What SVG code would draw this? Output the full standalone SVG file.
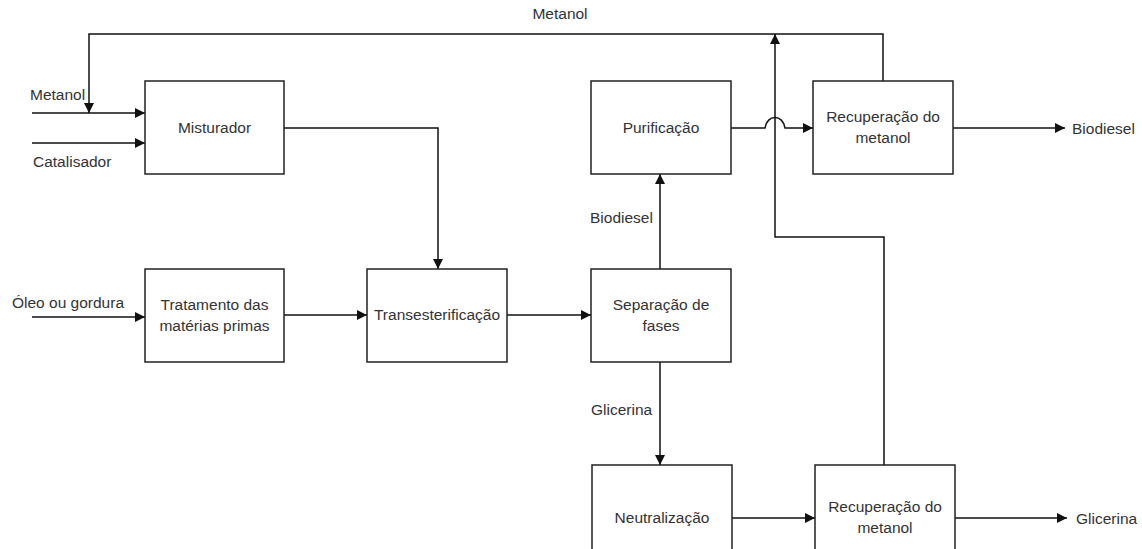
<svg xmlns="http://www.w3.org/2000/svg" width="1142" height="549" viewBox="0 0 1142 549">
<defs>
<marker id="ah" viewBox="0 0 10 10" refX="10" refY="5" markerWidth="10" markerHeight="10" markerUnits="userSpaceOnUse" orient="auto">
<path d="M0,0 L10,5 L0,10 Z" fill="#111"/>
</marker>
<style>
.box{fill:#fff;stroke:#222;stroke-width:1.5}
.ln{fill:none;stroke:#111;stroke-width:1.5}
.t{font-family:"Liberation Sans",Arial,sans-serif;font-size:15.5px;fill:#333}
.c{text-anchor:middle}
</style>
</defs>
<rect width="1142" height="549" fill="#fff"/>
<g id="connectors">
<path class="ln" d="M32,113 H145" marker-end="url(#ah)"/>
<path class="ln" d="M32,143 H145" marker-end="url(#ah)"/>
<path class="ln" d="M284,128 H438 V269" marker-end="url(#ah)"/>
<path class="ln" d="M32,317 H145" marker-end="url(#ah)"/>
<path class="ln" d="M284,315 H367" marker-end="url(#ah)"/>
<path class="ln" d="M507,315 H591" marker-end="url(#ah)"/>
<path class="ln" d="M660,269 V174" marker-end="url(#ah)"/>
<path class="ln" d="M660,362 V465" marker-end="url(#ah)"/>
<path class="ln" d="M731,128 H765 C767,114 783,114 785,128 H813" marker-end="url(#ah)"/>
<path class="ln" d="M953,128 H1065" marker-end="url(#ah)"/>
<path class="ln" d="M884,465 V237 H775 V34" marker-end="url(#ah)"/>
<path class="ln" d="M883,81 V34 H89 V113" marker-end="url(#ah)"/>
<path class="ln" d="M732,518 H815" marker-end="url(#ah)"/>
<path class="ln" d="M955,518 H1067" marker-end="url(#ah)"/>
</g>
<g id="labels">
<text class="t c" x="560" y="19">Metanol</text>
<text class="t" x="30" y="100">Metanol</text>
<text class="t" x="33" y="167">Catalisador</text>
<text class="t" x="12" y="308">Óleo ou gordura</text>
<text class="t" x="590" y="223">Biodiesel</text>
<text class="t" x="591" y="415">Glicerina</text>
<text class="t" x="1072" y="134">Biodiesel</text>
<text class="t" x="1076" y="524">Glicerina</text>
</g>
<g id="misturador">
<rect class="box" x="145" y="81" width="139" height="93"/>
<text class="t c" x="214.5" y="133">Misturador</text>
</g>
<g id="tratamento">
<rect class="box" x="145" y="269" width="139" height="93"/>
<text class="t c" x="214.5" y="310">Tratamento das</text>
<text class="t c" x="214.5" y="331">matérias primas</text>
</g>
<g id="transesterificacao">
<rect class="box" x="367" y="269" width="140" height="93"/>
<text class="t c" x="437" y="320">Transesterificação</text>
</g>
<g id="separacao">
<rect class="box" x="591" y="269" width="140" height="93"/>
<text class="t c" x="661" y="310">Separação de</text>
<text class="t c" x="661" y="331">fases</text>
</g>
<g id="purificacao">
<rect class="box" x="591" y="81" width="140" height="93"/>
<text class="t c" x="661" y="133">Purificação</text>
</g>
<g id="recuperacao1">
<rect class="box" x="813" y="81" width="140" height="93"/>
<text class="t c" x="883" y="122">Recuperação do</text>
<text class="t c" x="883" y="143">metanol</text>
</g>
<g id="neutralizacao">
<rect class="box" x="592" y="465" width="140" height="100"/>
<text class="t c" x="662" y="523">Neutralização</text>
</g>
<g id="recuperacao2">
<rect class="box" x="815" y="465" width="140" height="100"/>
<text class="t c" x="885" y="512">Recuperação do</text>
<text class="t c" x="885" y="533">metanol</text>
</g>
</svg>
